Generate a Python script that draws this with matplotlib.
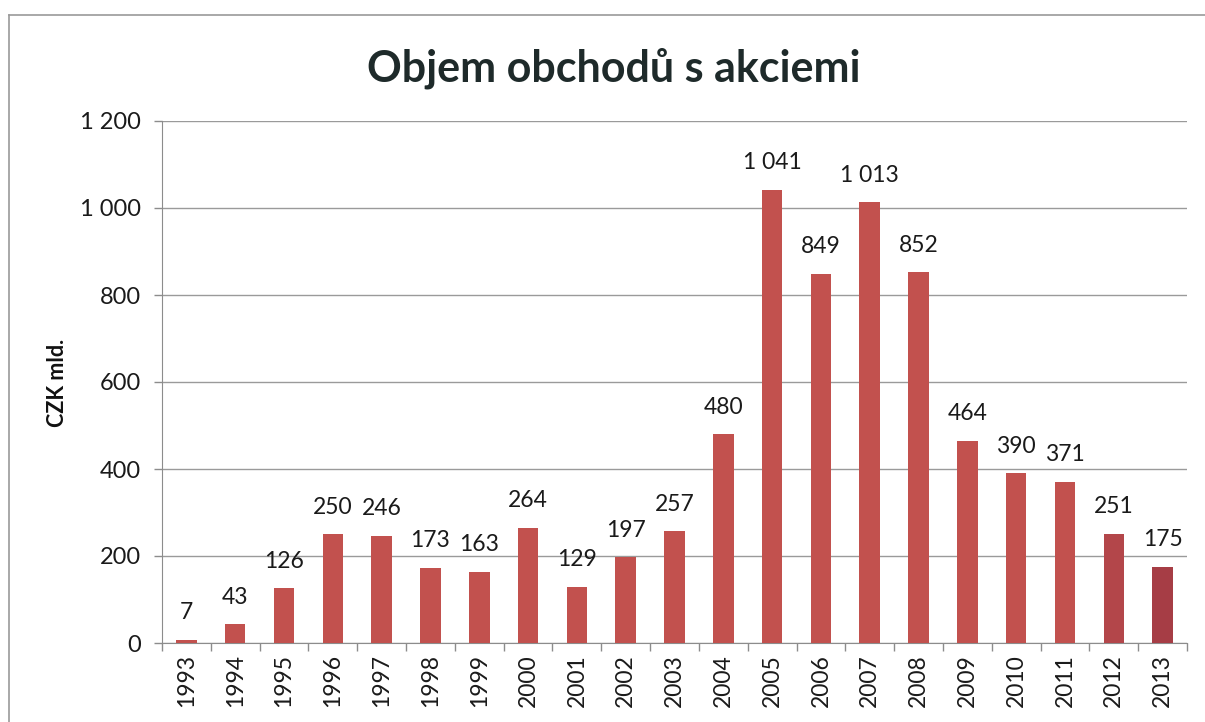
import matplotlib
matplotlib.use("Agg")
import matplotlib.pyplot as plt
from matplotlib.lines import Line2D

plt.rcParams['font.family'] = ['Lato', 'DejaVu Sans']

years = [str(y) for y in range(1993, 2014)]
volume = [7, 43, 126, 250, 246, 173, 163, 264, 129, 197, 257,
          480, 1041, 849, 1013, 852, 464, 390, 371, 251, 175]
y_ticks = [0, 200, 400, 600, 800, 1000, 1200]


def fmt(v):
    # thousands separated by a space, as in the Czech original
    return f"{v:,}".replace(",", " ")


fig = plt.figure(figsize=(12.05, 7.22), dpi=100)
ax = fig.add_axes([162 / 1205, 1 - 643 / 722, 1025 / 1205, 522 / 722])

colors = ['#c2514e'] * len(years)
colors[-2] = '#b3464a'
colors[-1] = '#a63d45'

x = list(range(len(years)))
ax.bar(x, volume, width=0.42, color=colors, zorder=3)

for xi, v in zip(x, volume):
    ax.annotate(fmt(v), (xi, v), xytext=(0, 12), textcoords='offset points',
                ha='center', va='bottom', fontsize=16.5, color='#1a1a1a')

ax.set_xlim(-0.5, len(years) - 0.5)
ax.set_ylim(0, 1200)
ax.set_yticks(y_ticks)
ax.set_yticklabels([fmt(t) for t in y_ticks], fontsize=17, color='#1a1a1a')
ax.set_xticks(x)
ax.set_xticklabels(years, rotation=90, fontsize=16.5, color='#1a1a1a')
ax.set_xticks([i - 0.5 for i in range(len(years) + 1)], minor=True)
ax.tick_params(axis='x', which='major', length=0, pad=8)
ax.tick_params(axis='x', which='minor', length=6, color='#8c8c8c', width=1)
ax.tick_params(axis='y', length=6, color='#8c8c8c', width=1, pad=9)

ax.grid(axis='y', color='#9a9a9a', linewidth=1, zorder=0)
for s in ['top', 'right']:
    ax.spines[s].set_visible(False)
ax.spines['left'].set_color('#8c8c8c')
ax.spines['bottom'].set_color('#8c8c8c')

fig.text(58 / 1205, 1 - 383 / 722, 'CZK mld.', rotation=90, ha='center', va='center',
         fontsize=15.5, fontweight='bold', color='#111111')

fig.text(614 / 1205, 1 - 68 / 722, 'Objem obchodů s akciemi', ha='center', va='center',
         fontsize=31, fontweight='bold', color='#1e2a2a')

# chart frame from the scan
fig.add_artist(Line2D([9 / 1205, 9 / 1205], [0, 1 - 15 / 722], color='#9a9a9a',
                      linewidth=1.2, transform=fig.transFigure))
fig.add_artist(Line2D([9 / 1205, 1], [1 - 15 / 722, 1 - 15 / 722], color='#9a9a9a',
                      linewidth=1.2, transform=fig.transFigure))

fig.savefig('out.png', dpi=100)
